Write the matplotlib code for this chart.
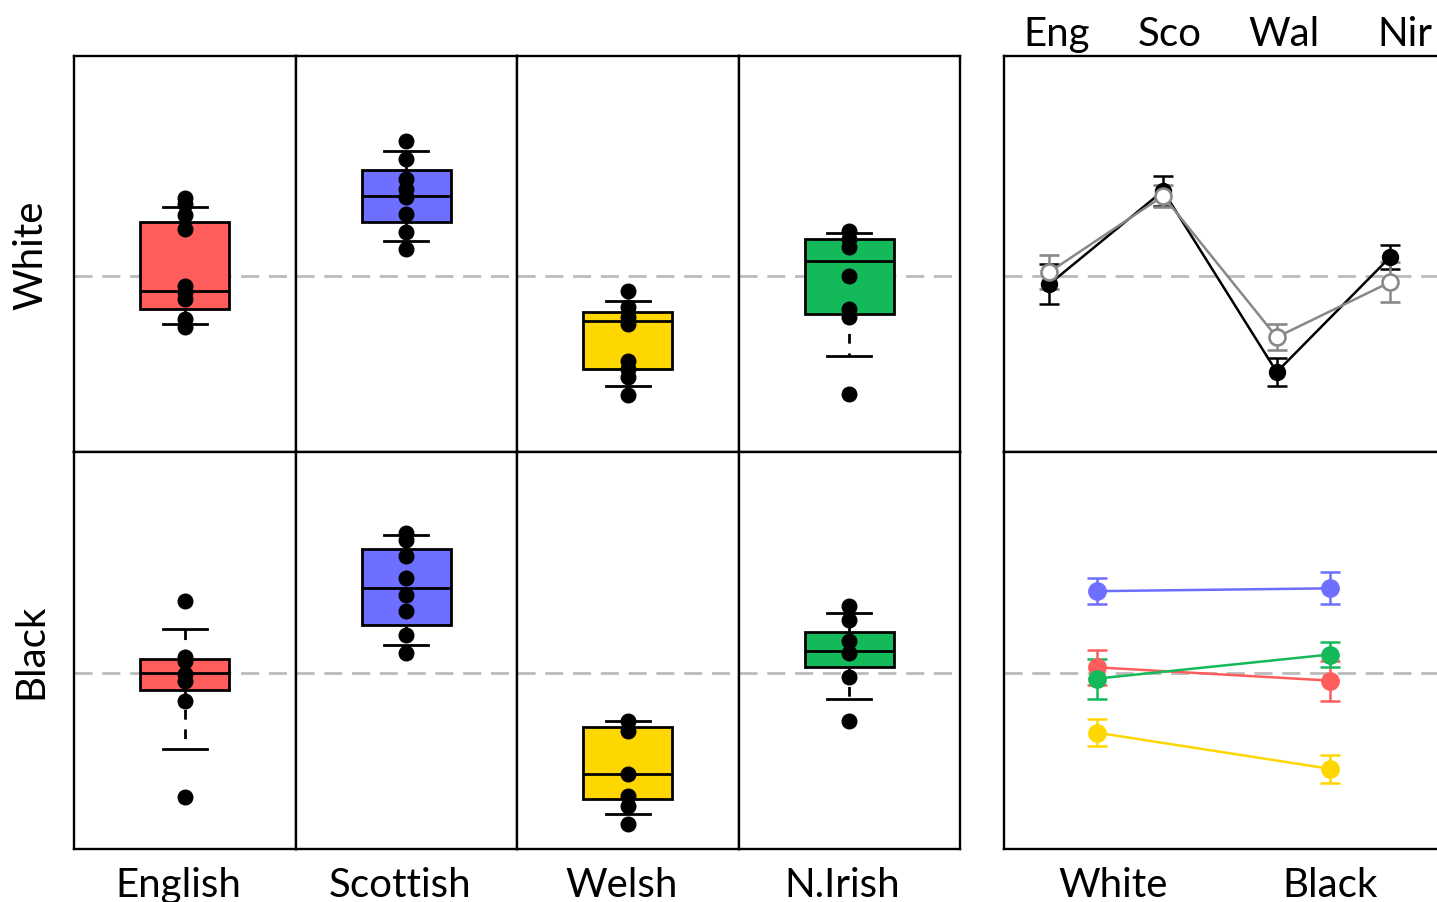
import matplotlib.pyplot as plt
import numpy as np

plt.rcParams['font.family'] = ['Lato', 'DejaVu Sans']

# nationality groups (columns) and ethnicity (rows)
nations = ["English", "Scottish", "Welsh", "N.Irish"]
nat_short = ["Eng", "Sco", "Wal", "Nir"]
ethnic = ["White", "Black"]
colors = ["#FF5C5C", "#6E6EFF", "#FFD700", "#14B95A"]

# individual scores, per ethnicity then nationality
points = {
    "White": [
        [1.95, 1.8, 1.53, 1.18, -0.25, -0.4, -0.58, -1.08, -1.28],
        [3.38, 2.93, 2.43, 2.18, 1.98, 1.55, 1.1, 0.68],
        [-0.38, -0.78, -1.03, -1.2, -2.13, -2.33, -2.53, -2.98],
        [1.13, 0.93, 0.73, 0.0, -0.83, -1.03, -2.95],
    ],
    "Black": [
        [1.78, 0.4, 0.28, -0.03, -0.2, -0.7, -3.1],
        [3.48, 3.3, 2.9, 2.35, 1.93, 1.53, 0.93, 0.48],
        [-1.2, -1.45, -2.53, -3.08, -3.33, -3.78],
        [1.65, 1.3, 0.78, 0.48, -0.1, -1.2],
    ],
}

# box summaries: (lower whisker, q1, median, q3, upper whisker)
box_stats = {
    "White": [
        (-1.2, -0.83, -0.38, 1.35, 1.73),
        (0.88, 1.35, 2.0, 2.65, 3.13),
        (-2.75, -2.33, -1.13, -0.9, -0.63),
        (-2.0, -0.95, 0.38, 0.93, 1.08),
    ],
    "Black": [
        (-1.9, -0.43, 0.0, 0.33, 1.08),
        (0.68, 1.18, 2.1, 3.08, 3.43),
        (-3.53, -3.15, -2.53, -1.35, -1.2),
        (-0.65, 0.13, 0.55, 1.0, 1.48),
    ],
}

# group means and standard errors
means_black = [-0.2, 2.13, -2.4, 0.48]
se_black = [0.5, 0.38, 0.35, 0.3]
means_white = [0.1, 2.0, -1.53, -0.15]
se_white = [0.43, 0.28, 0.33, 0.5]

# same means by nationality, White -> Black
nat_means = [[0.13, -0.2], [2.03, 2.1], [-1.5, -2.4], [-0.15, 0.45]]
nat_se = [[0.43, 0.5], [0.33, 0.4], [0.33, 0.35], [0.5, 0.31]]

ylim = (-4.4, 5.5)
W, H = 1437, 903
fig = plt.figure(figsize=(W / 100, H / 100), dpi=100)

def frame(ax):
    for s in ax.spines.values():
        s.set_linewidth(1.7)
    ax.set_ylim(*ylim)
    ax.set_yticks([])
    ax.axhline(0, color="#BBBBBB", lw=2, dashes=(6.5, 3.5), zorder=0)

col_w = (960 - 74) / 4
rows_px = {"White": (57, 453), "Black": (453, 850)}

for r, eth in enumerate(ethnic):
    top, bot = rows_px[eth]
    for c, nat in enumerate(nations):
        left = 74 + c * col_w
        ax = fig.add_axes([left / W, (H - bot) / H, col_w / W, (bot - top) / H])
        frame(ax)
        ax.set_xlim(0, 1)
        lo, q1, med, q3, hi = box_stats[eth][c]
        st = [dict(whislo=lo, q1=q1, med=med, q3=q3, whishi=hi, fliers=[])]
        ax.bxp(st, positions=[0.5], widths=0.4, capwidths=0.2, patch_artist=True,
               showfliers=False,
               boxprops=dict(facecolor=colors[c], edgecolor="black", linewidth=2),
               medianprops=dict(color="black", linewidth=2),
               whiskerprops=dict(color="black", linewidth=2, linestyle=(0, (3.5, 3.5))),
               capprops=dict(color="black", linewidth=2))
        y = points[eth][c]
        ax.plot(np.full(len(y), 0.5), y, "o", color="black", ms=10.5, zorder=5)
        if r == 1:
            ax.set_xticks([0.47])
            ax.set_xticklabels([nat], fontsize=29)
            ax.tick_params(axis="x", length=0, pad=12)
        else:
            ax.set_xticks([])
    fig.text(31 / W, 1 - (top + bot) / 2 / H, eth, rotation=90, ha="center",
             va="center", fontsize=29)

rx, rw = 1004, 1437 - 1004

# top right: means for each nationality, one line per ethnicity
ax1 = fig.add_axes([rx / W, (H - 453) / H, rw / W, 396 / H])
frame(ax1)
ax1.spines["right"].set_visible(False)
xs = np.arange(1, 5)
ax1.errorbar(xs, means_black, yerr=se_black, color="black", lw=1.8, marker="o",
             ms=11.5, mfc="black", mec="black", capsize=7, elinewidth=1.8, capthick=1.8)
ax1.errorbar(xs, means_white, yerr=se_white, color="#888888", lw=1.8, marker="o",
             ms=11.5, mfc="white", mec="#888888", mew=1.9, capsize=7, elinewidth=1.8,
             capthick=1.8)
ax1.set_xlim(0.6, 4.41)
ax1.xaxis.tick_top()
ax1.set_xticks([1.06, 2.06, 3.06, 4.13])
ax1.set_xticklabels(nat_short, fontsize=29)
ax1.tick_params(axis="x", length=0, pad=3)

# bottom right: each nationality from White to Black
ax2 = fig.add_axes([rx / W, (H - 850) / H, rw / W, 397 / H])
frame(ax2)
ax2.spines["right"].set_visible(False)
for k in [0, 1, 2, 3]:
    ax2.errorbar([1, 2], nat_means[k], yerr=nat_se[k], color=colors[k], lw=1.8,
                 marker="o", ms=12.5, capsize=7, elinewidth=1.8, capthick=1.8)
ax2.set_xlim(0.6, 2.46)
ax2.set_xticks([1.07, 2.0])
ax2.set_xticklabels(ethnic, fontsize=29)
ax2.tick_params(axis="x", length=0, pad=12)

fig.savefig("out.png", dpi=100)
